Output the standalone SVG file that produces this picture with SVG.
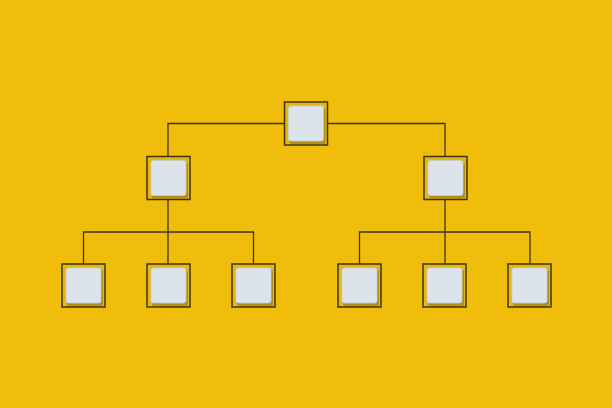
<svg xmlns="http://www.w3.org/2000/svg" width="612" height="408" viewBox="0 0 612 408">
<defs>
<style>
.frame{fill:#E9B60C;stroke:#3B3418;stroke-width:1.5}
.shade{fill:#8A6E1A;opacity:0.55}
.face{fill:#DCE3EA;stroke:#C5CED8;stroke-width:0.8}
.line{fill:none;stroke:#3B3418;stroke-width:1.3}
</style>
<g id="box">
<rect class="frame" x="0" y="0" width="43" height="43"/>
<rect class="shade" x="5" y="6" width="36" height="36" rx="2"/>
<rect class="face" x="4" y="4" width="35" height="35" rx="2.5"/>
</g>
</defs>
<rect width="612" height="408" fill="#F1BD0B"/>
<g id="connectors">
<path class="line" d="M168,156 V123.5 H284 M327,123.5 H445 V156"/>
<path class="line" d="M168,199 V264 M83.5,264 V232 H253.5 V264"/>
<path class="line" d="M445,199 V264 M359.5,264 V232 H530 V264"/>
</g>
<g id="root"><use href="#box" x="284.5" y="102"/></g>
<g id="mid-left"><use href="#box" x="147" y="156.5"/></g>
<g id="mid-right"><use href="#box" x="424" y="156.5"/></g>
<g id="leaf-1"><use href="#box" x="62" y="264"/></g>
<g id="leaf-2"><use href="#box" x="147" y="264"/></g>
<g id="leaf-3"><use href="#box" x="232" y="264"/></g>
<g id="leaf-4"><use href="#box" x="338" y="264"/></g>
<g id="leaf-5"><use href="#box" x="423" y="264"/></g>
<g id="leaf-6"><use href="#box" x="508" y="264"/></g>
</svg>
